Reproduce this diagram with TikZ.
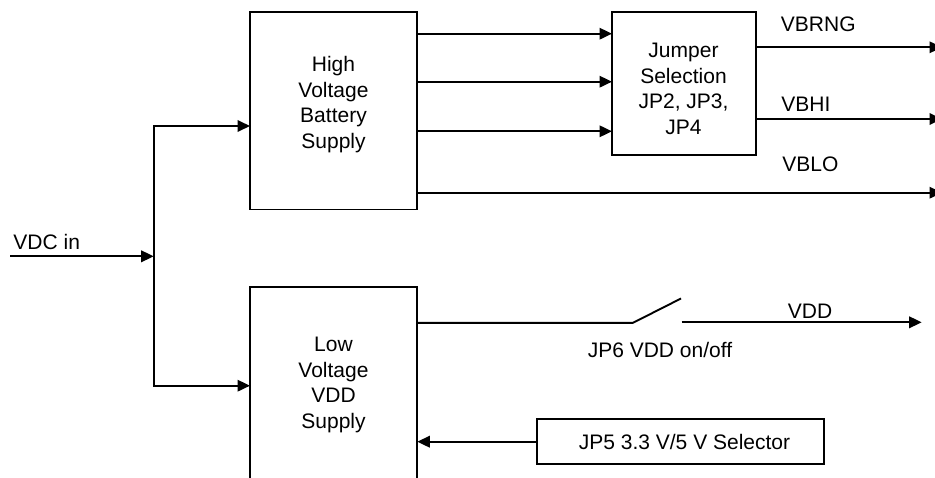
\documentclass[tikz,border=0pt]{standalone}
\usepackage{fontspec}
\setmainfont{Liberation Sans}
\usetikzlibrary{arrows.meta}
\tikzset{
  every picture/.style={x=1pt,y=-1pt,line width=1.9pt},
  txt/.style={font=\fontsize{21}{25.5}\selectfont, inner sep=0pt, align=center},
  blockbox/.style={draw, rectangle, inner sep=0pt},
  arr/.style={-{Triangle[length=12.5pt,width=11.5pt]}},
}
\begin{document}
\begin{tikzpicture}
\clip (0,0) rectangle (935,477);
\fill[white] (0,0) rectangle (935,477);
% boxes
\node[blockbox, minimum width=167.3pt, minimum height=197.8pt] (hv) at (333.7,110.6) {};
\node[blockbox, minimum width=143.7pt, minimum height=143.3pt] (jp) at (683.8,83.3) {};
\node[blockbox, minimum width=167.3pt, minimum height=225pt] (lv) at (333.7,399.8) {};
\node[blockbox, minimum width=287.6pt, minimum height=45.3pt] (jp5) at (680.5,441.7) {};
% box texts
\node[txt] (hvt) at (333.5,104.5) {High\\Voltage\\Battery\\Supply};
\node[txt] (jpt) at (683.5,89) {Jumper\\Selection\\JP2, JP3,\\JP4};
\node[txt] (lvt) at (333.5,385) {Low\\Voltage\\VDD\\Supply};
\node[txt] (jp5t) at (684.5,441.7) {JP5 3.3 V/5 V Selector};
% labels
\node[txt, anchor=west] (vdcl) at (12.5,241.7) {VDC in};
\node[txt, anchor=west] (vbrngl) at (780,24) {VBRNG};
\node[txt, anchor=west] (vbhil) at (780.5,104) {VBHI};
\node[txt, anchor=west] (vblol) at (781.5,164) {VBLO};
\node[txt] (vddl) at (810,311) {VDD};
\node[txt] (jp6l) at (660,350) {JP6 VDD on/off};
% coordinates
\coordinate (vin) at (10,256.3);
\coordinate (junc) at (153.7,256.3);
\coordinate (hvin) at (250,126);
\coordinate (lvin) at (250,385.7);
\coordinate (hvo1) at (417.3,33.7);
\coordinate (hvo2) at (417.3,81.7);
\coordinate (hvo3) at (417.3,131.3);
\coordinate (hvo4) at (417.3,192.7);
\coordinate (jpi1) at (612,33.7);
\coordinate (jpi2) at (612,81.7);
\coordinate (jpi3) at (612,131.3);
\coordinate (jpo1) at (755.7,47.3);
\coordinate (jpo2) at (755.7,119);
\coordinate (vbrngend) at (942,47.3);
\coordinate (vbhiend) at (942,119);
\coordinate (vbloend) at (942,192.7);
\coordinate (lvo) at (417.3,322.8);
\coordinate (swa) at (633,322.8);
\coordinate (swb) at (681,298.5);
\coordinate (vdds) at (681.7,322.3);
\coordinate (vdde) at (921.7,322.3);
\coordinate (lvsel) at (417.3,441.7);
% connectors
\draw[arr] (vin) -- (junc);
\draw[arr] (junc) |- (hvin);
\draw[arr] (junc) |- (lvin);
\draw[arr] (hvo1) -- (jpi1);
\draw[arr] (hvo2) -- (jpi2);
\draw[arr] (hvo3) -- (jpi3);
\draw[arr] (hvo4) -- (vbloend);
\draw[arr] (jpo1) -- (vbrngend);
\draw[arr] (jpo2) -- (vbhiend);
\draw (lvo) -- (swa) -- (swb);
\draw[arr] (vdds) -- (vdde);
\draw[arr] (jp5.west) -- (lvsel);
\end{tikzpicture}
\end{document}
